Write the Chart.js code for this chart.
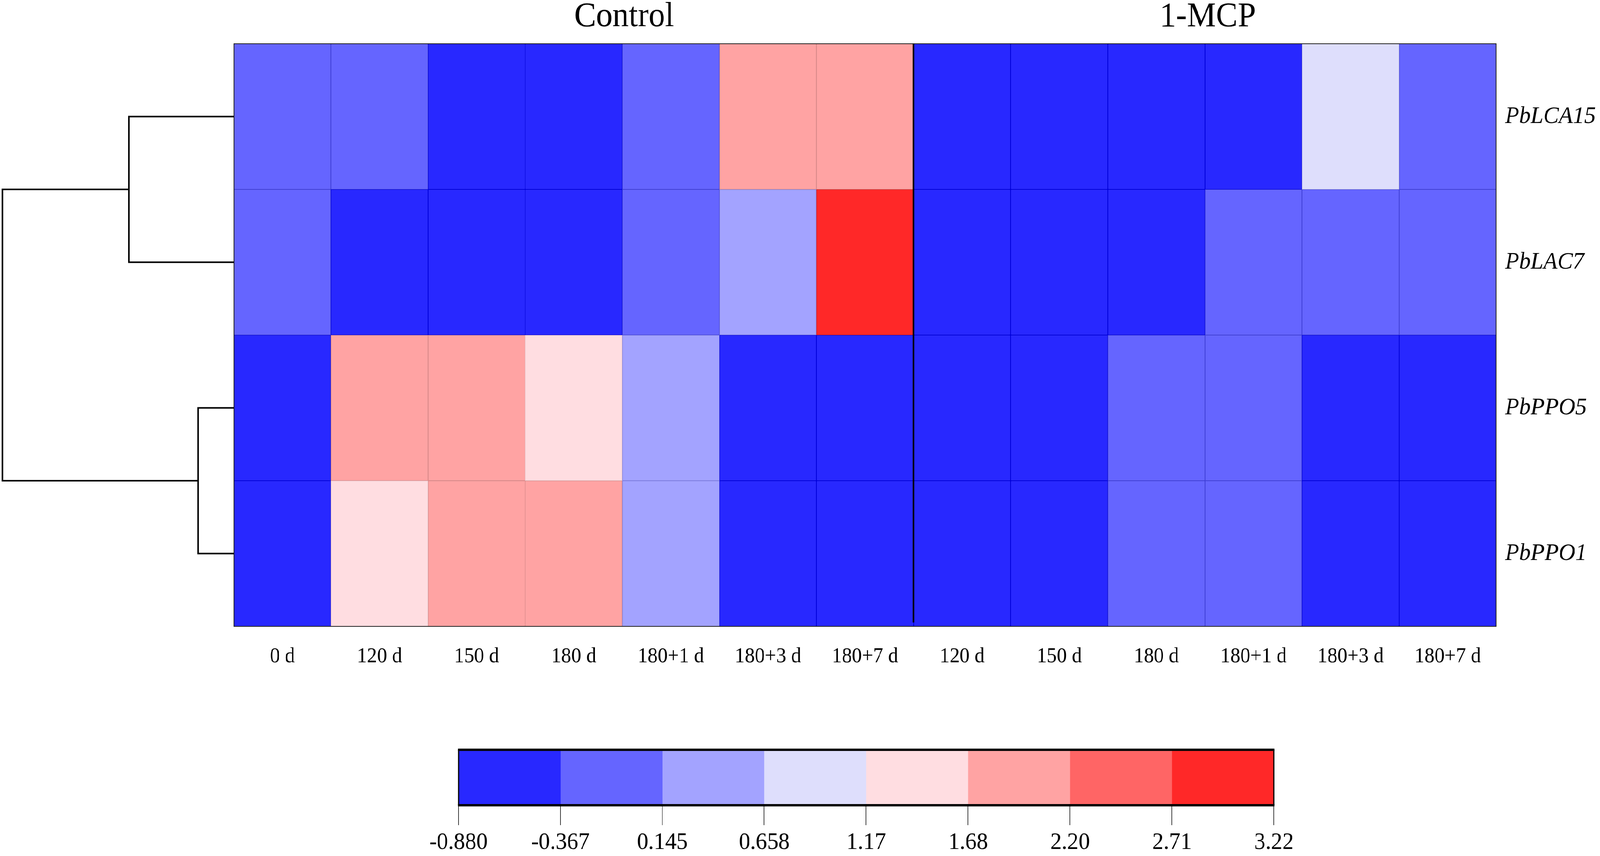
<!DOCTYPE html>
<html>
<head>
<meta charset="utf-8">
<style>
html,body{margin:0;padding:0;background:#fff;height:2192px;overflow:hidden}
#page{position:absolute;left:0;top:0;width:4317px;height:2192px;transform-origin:0 0}
canvas{position:absolute;display:block}
</style>
<script src="https://cdn.jsdelivr.net/npm/chart.js@4"></script>
</head>
<body>
<div id="page">
<canvas id="heat" width="4317" height="2192" style="left:0;top:0;width:4317px;height:2192px"></canvas>
<canvas id="tree" width="631" height="1492" style="left:0;top:112px;width:631px;height:1492px"></canvas>
<canvas id="key" width="4317" height="392" style="left:0;top:1800px;width:4317px;height:392px"></canvas>
</div>
<script>
document.getElementById('page').style.transform = 'scaleX(' + (window.innerWidth/4317) + ')';

const timePoints = ['0 d','120 d','150 d','180 d','180+1 d','180+3 d','180+7 d','120 d','150 d','180 d','180+1 d','180+3 d','180+7 d'];
const geneNames = ['PbLCA15','PbLAC7','PbPPO5','PbPPO1'];
const groupNames = ['Control','1-MCP'];

const PbLCA15 = [-0.21,-0.25,-0.62,-0.66,-0.24,1.98,2.05,-0.74,-0.78,-0.72,-0.70,0.91,-0.14];
const PbLAC7  = [-0.23,-0.70,-0.72,-0.69,-0.20,0.40,3.10,-0.75,-0.78,-0.73,-0.28,-0.30,-0.26];
const PbPPO5  = [-0.80,1.98,1.90,1.45,0.41,-0.72,-0.70,-0.75,-0.77,-0.22,-0.18,-0.68,-0.66];
const PbPPO1  = [-0.79,1.42,1.88,1.95,0.38,-0.70,-0.72,-0.76,-0.78,-0.24,-0.21,-0.67,-0.69];

const colorBreaks = [-0.88,-0.3675,0.145,0.6575,1.17,1.6825,2.195,2.7075,3.22];
const breakLabels = ['-0.880','-0.367','0.145','0.658','1.17','1.68','2.20','2.71','3.22'];
const binFills = ['#2828FF','#6565FF','#A3A3FF','#DEDEFC','#FFDDE1','#FFA3A3','#FF6565','#FF2828'];
const binEdges = ['#0000DC','#4040D8','#7E7EE0','#C0C0E4','#E8C4C8','#D88888','#DC5050','#D81818'];

const treeHeights = {topPair:0.453, bottomPair:0.155, root:1.0};

Chart.defaults.font.family = '"Liberation Serif", serif';
Chart.defaults.color = '#000';

function binOf(v){
  for(let i=0;i<binFills.length;i++){ if(v<colorBreaks[i+1]) return i; }
  return binFills.length-1;
}

const heatRows = [PbLCA15,PbLAC7,PbPPO5,PbPPO1];
const heatSets = heatRows.map((vals,i)=>{
  const r = heatRows.length-1-i;
  return {
    label: geneNames[i],
    data: vals.map(()=>[r,r+1]),
    heatValues: vals,
    backgroundColor: vals.map(v=>binFills[binOf(v)]),
    borderColor: vals.map(v=>binEdges[binOf(v)]),
    borderWidth: 1.5,
    borderSkipped: false,
    grouped: false,
    barPercentage: 1,
    categoryPercentage: 1
  };
});

const frame = {
  id:'frame',
  afterDatasetsDraw(chart){
    const a = chart.chartArea, c = chart.ctx, sep = chart.scales.xTop.getPixelForValue(7);
    c.save();
    c.strokeStyle='#222'; c.lineWidth=2;
    c.strokeRect(a.left,a.top,a.right-a.left,a.bottom-a.top);
    c.strokeStyle='#000'; c.lineWidth=4;
    c.beginPath(); c.moveTo(sep-0.5,a.top); c.lineTo(sep-0.5,a.bottom-10); c.stroke();
    c.restore();
  }
};

new Chart(document.getElementById('heat'),{
  type:'bar',
  data:{labels:timePoints,datasets:heatSets},
  plugins:[frame],
  options:{
    responsive:false,animation:false,devicePixelRatio:1,
    layout:{padding:{left:631,right:0,top:0,bottom:0}},
    plugins:{legend:{display:false},tooltip:{enabled:false},title:{display:false}},
    scales:{
      x:{
        type:'category',position:'bottom',
        grid:{display:false,drawTicks:false},border:{display:false},
        ticks:{font:{size:54},padding:45,autoSkip:false,maxRotation:0,minRotation:0,color:'#000'},
        afterFit(s){s.height=588;}
      },
      xTop:{
        type:'linear',axis:'x',position:'top',min:0,max:13,offset:false,
        grid:{display:false,drawTicks:false},border:{display:false},
        afterBuildTicks(s){s.ticks=[{value:4.02},{value:10.03}];},
        ticks:{font:{size:88},padding:15,autoSkip:false,maxRotation:0,minRotation:0,color:'#000',
          callback(v,i){return groupNames[i];}},
        afterFit(s){s.height=112;}
      },
      y:{
        type:'linear',position:'right',min:0,max:4,
        grid:{display:false,drawTicks:false},border:{display:false},
        afterBuildTicks(s){s.ticks=[{value:0.5},{value:1.5},{value:2.5},{value:3.5}];},
        ticks:{font:{size:62,style:'italic'},padding:24,autoSkip:false,color:'#000',
          callback(v,i){return geneNames[geneNames.length-1-i];}},
        afterFit(s){s.width=280;}
      }
    }
  }
});

function link(h,yA,yB,hA,hB){
  return {data:[{x:hA,y:yA},{x:h,y:yA},{x:h,y:yB},{x:hB,y:yB}],showLine:true,pointRadius:0,
          borderColor:'#000',backgroundColor:'#000',borderWidth:4,clip:false,tension:0};
}
new Chart(document.getElementById('tree'),{
  type:'scatter',
  data:{datasets:[
    link(treeHeights.topPair,3.5,2.5,0,0),
    link(treeHeights.bottomPair,1.5,0.5,0,0),
    link(treeHeights.root,3,1,treeHeights.topPair,treeHeights.bottomPair)
  ]},
  options:{
    responsive:false,animation:false,devicePixelRatio:1,
    layout:{padding:0},
    plugins:{legend:{display:false},tooltip:{enabled:false}},
    scales:{
      x:{type:'linear',reverse:true,min:0,max:1.01,display:false},
      y:{type:'linear',min:0,max:4,display:false}
    }
  }
});

const keyFrame = {
  id:'keyFrame',
  afterDatasetsDraw(chart){
    const a = chart.chartArea, c = chart.ctx;
    c.save(); c.strokeStyle='#000';
    c.lineWidth=6;
    c.beginPath();
    c.moveTo(a.left-1.5,a.top); c.lineTo(a.right+1.5,a.top);
    c.moveTo(a.left-1.5,a.bottom); c.lineTo(a.right+1.5,a.bottom);
    c.stroke();
    c.lineWidth=3;
    c.beginPath();
    c.moveTo(a.left,a.top); c.lineTo(a.left,a.bottom);
    c.moveTo(a.right,a.top); c.lineTo(a.right,a.bottom);
    c.stroke();
    c.restore();
  }
};
new Chart(document.getElementById('key'),{
  type:'bar',
  data:{
    labels:['Scale'],
    datasets:binFills.map((col,i)=>({
      label:breakLabels[i],
      data:[[colorBreaks[i],colorBreaks[i+1]]],
      backgroundColor:col,borderWidth:0,grouped:false,barPercentage:1,categoryPercentage:1
    }))
  },
  plugins:[keyFrame],
  options:{
    indexAxis:'y',responsive:false,animation:false,devicePixelRatio:1,
    layout:{padding:{left:1237,right:880,top:120,bottom:0}},
    plugins:{legend:{display:false},tooltip:{enabled:false}},
    scales:{
      y:{type:'category',display:false},
      x:{
        type:'linear',position:'bottom',min:colorBreaks[0],max:colorBreaks[colorBreaks.length-1],
        grid:{drawOnChartArea:false,drawTicks:true,tickLength:51,color:'#000',lineWidth:1.5},
        border:{display:false},
        afterBuildTicks(s){s.ticks=colorBreaks.map(v=>({value:v}));},
        ticks:{font:{size:61},padding:8,autoSkip:false,maxRotation:0,minRotation:0,color:'#000',
          callback(v,i){return breakLabels[i];}},
        afterFit(s){s.height=130;}
      }
    }
  }
});
</script>
</body>
</html>
